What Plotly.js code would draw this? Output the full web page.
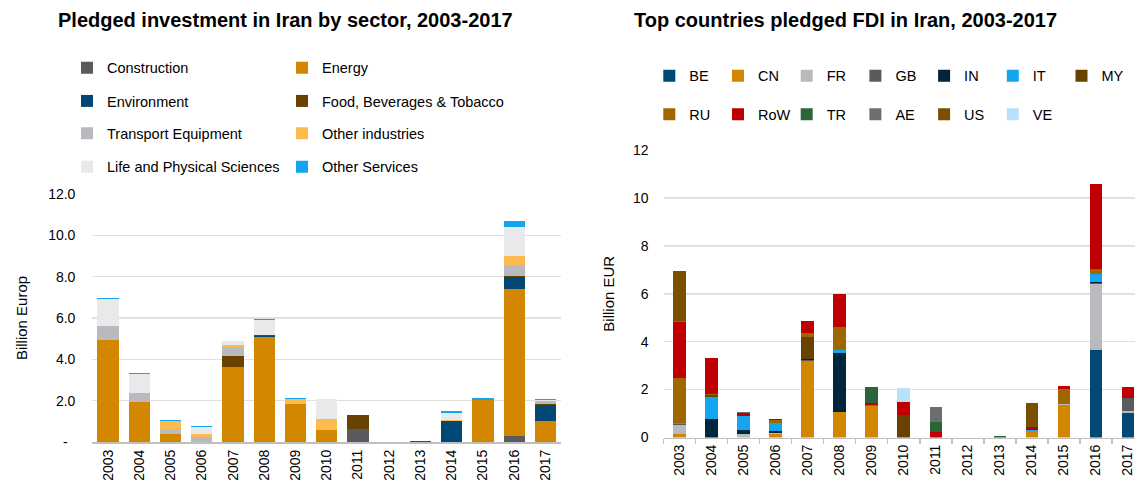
<!DOCTYPE html>
<html>
<head>
<meta charset="utf-8">
<script src="https://cdn.plot.ly/plotly-3.0.1.min.js"></script>
<style>html,body{margin:0;padding:0;background:#fff;}#chart{width:1135px;height:489px;}</style>
</head>
<body>
<div id="chart"></div>
<script>
var years = ['2003','2004','2005','2006','2007','2008','2009','2010','2011','2012','2013','2014','2015','2016','2017'];

// Left chart: pledged investment by sector (billion EUR)
var sectorNames = ['Construction','Energy','Environment','Food, Beverages & Tobacco','Transport Equipment','Other industries','Life and Physical Sciences','Other Services'];
var construction   = [0,0,0,0,0,0,0,0,0.63,0,0,0,0,0.30,0];
var energy         = [4.95,1.95,0.41,0,3.65,5.08,1.82,0.56,0,0,0,0,2.04,7.09,1.04];
var environment    = [0,0,0,0,0,0.05,0,0,0,0,0,1.03,0,0.61,0.73];
var food           = [0,0,0,0,0.51,0.06,0,0,0.69,0,0.07,0,0,0.05,0.05];
var transport      = [0.65,0.42,0.24,0.25,0.44,0,0,0,0,0,0,0,0,0.53,0.16];
var otherIndustry  = [0,0,0.36,0.16,0.08,0,0.24,0.56,0,0,0,0.05,0,0.42,0];
var lifeSciences   = [1.30,0.93,0,0.33,0.19,0.69,0,0.95,0,0,0,0.30,0,1.42,0.03];
var otherServices  = [0.07,0.05,0.06,0.04,0,0.08,0.06,0.03,0,0,0,0.10,0.08,0.26,0.06];
var sectorValues = [construction, energy, environment, food, transport, otherIndustry, lifeSciences, otherServices];
var sectorColors = ['#595b5f','#d38600','#004876','#6a4200','#b9babd','#fdba4e','#e8e9ea','#14a5ef'];

// Right chart: top countries pledged FDI (billion EUR)
var countryNames = ['BE','CN','FR','GB','IN','IT','MY','RU','RoW','TR','AE','US','VE'];
var BE  = [0,0,0,0,0,0,0,0,0,0,0,0,0,3.64,1.04];
var CN  = [0.13,0,0,0.14,3.20,1.07,1.33,0,0,0,0,0.28,1.35,0,0];
var FR  = [0.41,0,0.13,0.05,0,0,0,0,0,0,0,0,0.04,2.76,0.05];
var GB  = [0.04,0,0,0,0.05,0,0,0,0,0,0,0,0,0.04,0.56];
var IN  = [0,0.78,0.20,0.10,0.04,2.47,0,0,0,0,0,0,0,0.03,0];
var IT  = [0.04,0.92,0.56,0.31,0,0.11,0,0,0,0,0,0.04,0,0.37,0];
var MY  = [0,0.06,0,0,0.92,0,0,0.92,0,0,0,0,0,0,0];
var RU  = [1.86,0.05,0,0.15,0.15,0.95,0.03,0,0,0,0,0,0.65,0.19,0];
var RoW = [2.33,1.50,0.12,0.03,0.52,1.37,0.10,0.55,0.24,0,0,0.10,0.10,3.57,0.45];
var TR  = [0,0,0,0,0,0,0.64,0,0.41,0,0.06,0,0,0,0];
var AE  = [0.05,0,0.05,0,0,0,0,0,0.64,0,0,0,0,0,0];
var US  = [2.10,0,0,0,0,0,0,0,0,0,0,1.01,0,0,0];
var VE  = [0,0,0,0,0,0,0,0.60,0,0,0,0,0,0,0];
var countryValues = [BE, CN, FR, GB, IN, IT, MY, RU, RoW, TR, AE, US, VE];
var countryColors = ['#004876','#d38600','#b9babd','#595b5f','#00263e','#14a5ef','#6a4200','#a06600','#c00000','#2b6436','#6d6e72','#7a5000','#b6e3fb'];

var leftTicks = [0,2,4,6,8,10,12];
var leftTickText = ['-\u00a0\u00a0','2.0','4.0','6.0','8.0','10.0','12.0'];
var rightTicks = [0,2,4,6,8,10,12];

var FONT = 'Liberation Sans, Arial, sans-serif';
var W = 1135, H = 489;

var traces = [];
var leftLegends = ['legend','legend','legend2','legend2','legend3','legend3','legend4','legend4'];
sectorNames.forEach(function(n, i){
  traces.push({type:'bar', name:n, x:years, y:sectorValues[i], xaxis:'x', yaxis:'y',
    marker:{color:sectorColors[i], line:{width:0}}, width:0.68, legend:leftLegends[i],
    legendwidth: (i % 2 === 0) ? 170 : 260});
});
countryNames.forEach(function(n, i){
  traces.push({type:'bar', name:n, x:years, y:countryValues[i], xaxis:'x2', yaxis:'y2',
    marker:{color:countryColors[i], line:{width:0}}, width:0.39, legend: i < 7 ? 'legend5' : 'legend6',
    legendwidth: 23.7});
});

function px(x){ return x / W; }
function py(y){ return 1 - y / H; }

function legendRow(xLeft, yCenter){
  return {orientation:'h', x:px(xLeft), xanchor:'left', y:py(yCenter), yanchor:'middle',
    font:{family:FONT, size:14.5, color:'#000'}, entrywidthmode:'pixels',
    bgcolor:'rgba(0,0,0,0)', borderwidth:0, traceorder:'normal'};
}

var layout = {
  width:W, height:H, margin:{l:0,r:0,t:0,b:0},
  paper_bgcolor:'#ffffff', plot_bgcolor:'#ffffff',
  barmode:'stack', showlegend:true,
  font:{family:FONT, size:14, color:'#000'},
  xaxis:{type:'category', domain:[px(92.4), px(561)], range:[-0.5,14.5], anchor:'y',
    showline:true, linecolor:'#bfbfbf', linewidth:2, ticks:'', tickangle:-90,
    tickfont:{family:FONT,size:14,color:'#000'}, showgrid:false, automargin:false, fixedrange:true},
  yaxis:{domain:[py(442), py(194)], range:[0,12], anchor:'x', tickvals:leftTicks, ticktext:leftTickText,
    showgrid:true, gridcolor:'#e0e0e0', gridwidth:1.5, zeroline:false, showline:false, ticks:'',
    ticklabelstandoff:16, tickfont:{family:FONT,size:14,color:'#000'}, automargin:false,
    title:{text:'Billion Europ', font:{family:FONT,size:15,color:'#000'}, standoff:16}},
  xaxis2:{type:'category', domain:[px(663.5), 1], range:[-0.5,14.22], anchor:'y2',
    showline:true, linecolor:'#bfbfbf', linewidth:1.5, ticks:'outside', tickson:'boundaries',
    ticklen:5, tickcolor:'#bfbfbf', tickwidth:1.5, tickangle:-90,
    tickfont:{family:FONT,size:14,color:'#000'}, showgrid:false, automargin:false},
  yaxis2:{domain:[py(437.5), py(150)], range:[0,12], anchor:'x2', tickvals:rightTicks,
    showgrid:true, gridcolor:'#e0e0e0', gridwidth:1.5, zeroline:false, showline:false, ticks:'',
    ticklabelstandoff:14, tickfont:{family:FONT,size:14,color:'#000'}, automargin:false,
    title:{text:'Billion EUR', font:{family:FONT,size:15,color:'#000'}, standoff:14}},
  legend:  legendRow(67, 67.7),
  legend2: legendRow(67, 101),
  legend3: legendRow(67, 133.3),
  legend4: legendRow(67, 166.7),
  legend5: legendRow(649.3, 75.7),
  legend6: legendRow(649.3, 114.3),
  annotations:[
    {text:'<b>Pledged investment in Iran by sector, 2003-2017</b>', xref:'paper', yref:'paper',
     x:px(285), y:py(20), xanchor:'center', yanchor:'middle', showarrow:false,
     font:{family:FONT,size:20,color:'#000'}},
    {text:'<b>Top countries pledged FDI in Iran, 2003-2017</b>', xref:'paper', yref:'paper',
     x:px(845), y:py(20), xanchor:'center', yanchor:'middle', showarrow:false,
     font:{family:FONT,size:20,color:'#000'}}
  ]
};

Plotly.newPlot('chart', traces, layout, {staticPlot:true, displayModeBar:false});
</script>
</body>
</html>
